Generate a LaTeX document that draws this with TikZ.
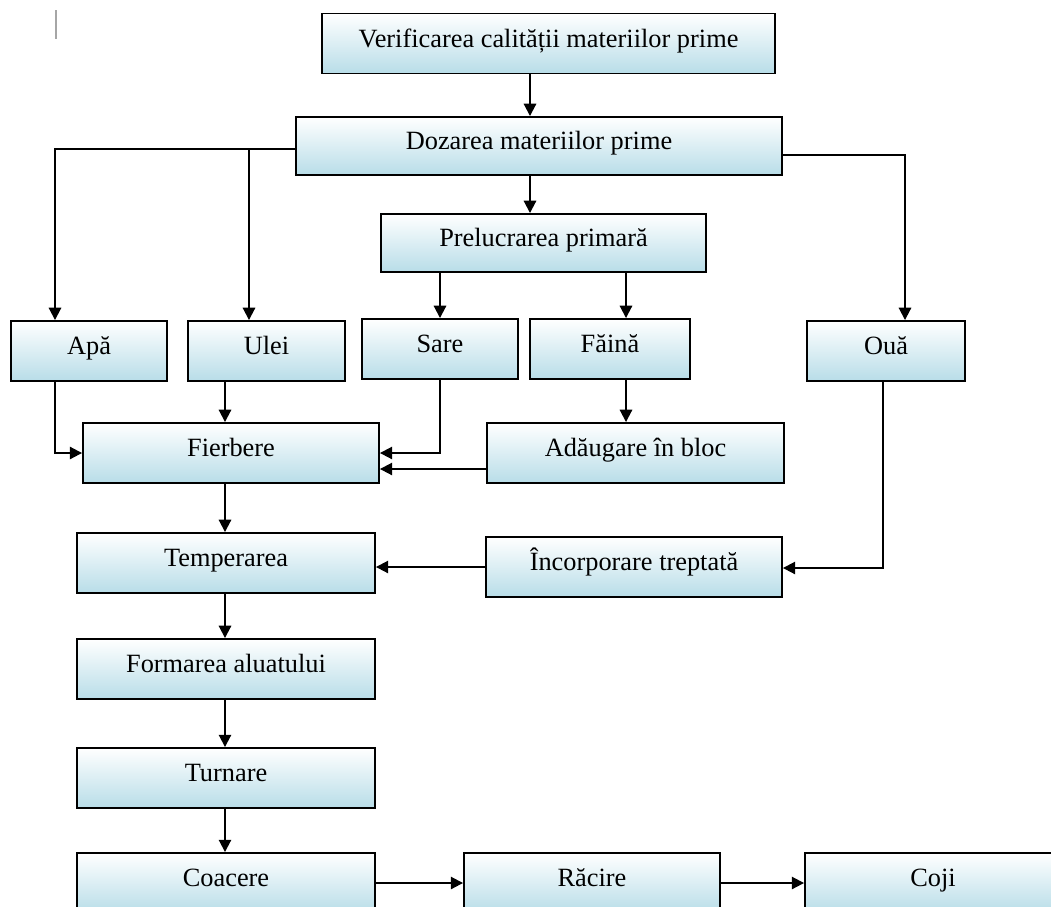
\documentclass[tikz,border=0pt]{standalone}
\usepackage{fontspec}
\setmainfont{Liberation Serif}
\usetikzlibrary{arrows.meta}
\definecolor{boxblue}{RGB}{184,221,232}
\begin{document}
\begin{tikzpicture}[x=0.02cm,y=-0.02cm,
  box/.style={rectangle,draw,line width=1.1pt,top color=white,bottom color=boxblue,
    minimum height=1.2cm,inner sep=0pt,text height=0.7em,text depth=0.3em,
    font=\fontsize{15}{18}\selectfont},
  arr/.style={line width=1.1pt,-{Triangle[length=7pt,width=7pt]}}]
\useasboundingbox (0,0) rectangle (1051,906);
\clip (0,0) rectangle (1051,906);
\draw[black!35,line width=0.6pt] (56,10) -- (56,39);
\node [box,minimum width=9.06cm] (ver) at (548.5,43.5) {Verificarea calității materiilor prime};
\node [box,minimum width=9.72cm,minimum height=1.16cm] (doz) at (539,146) {Dozarea materiilor prime};
\node [box,minimum width=6.5cm,minimum height=1.16cm] (prel) at (543.5,243) {Prelucrarea primară};
\node [box,minimum width=3.12cm] (apa) at (89,351) {Apă};
\node [box,minimum width=3.14cm] (ulei) at (266.5,351) {Ulei};
\node [box,minimum width=3.12cm] (sare) at (440,349) {Sare};
\node [box,minimum width=3.2cm] (faina) at (610,349) {Făină};
\node [box,minimum width=3.16cm] (oua) at (886,351) {Ouă};
\node [box,minimum width=5.92cm] (fier) at (231,453) {Fierbere};
\node [box,minimum width=5.94cm] (adaug) at (635.5,453) {Adăugare în bloc};
\node [box,minimum width=5.96cm] (temp) at (226,563) {Temperarea};
\node [box,minimum width=5.92cm] (incorp) at (634,567) {Încorporare treptată};
\node [box,minimum width=5.96cm] (form) at (226,669) {Formarea aluatului};
\node [box,minimum width=5.96cm] (turn) at (226,778) {Turnare};
\node [box,minimum width=5.96cm] (coac) at (226,883) {Coacere};
\node [box,minimum width=5.12cm] (rac) at (592,883) {Răcire};
\node [box,minimum width=5.12cm] (coji) at (933,883) {Coji};
\coordinate (xa) at (530,0);
\coordinate (xl) at (55,149);
\coordinate (xu) at (249,0);
\coordinate (xr) at (905,155);
\coordinate (xf) at (626,0);
\coordinate (xc) at (225,0);
\coordinate (xo) at (883,568);
\coordinate (ya) at (0,469);
\draw[arr] (ver.south -| xa) -- (doz.north -| xa);
\draw[arr] (doz.south -| xa) -- (prel.north -| xa);
\draw[arr] (doz.west |- xl) -- (xl) -- (apa.north -| xl);
\draw[arr] (xl -| xu) -- (ulei.north -| xu);
\draw[arr] (doz.east |- xr) -- (xr) -- (oua.north -| xr);
\draw[arr] (prel.south -| sare.north) -- (sare.north);
\draw[arr] (prel.south -| xf) -- (faina.north -| xf);
\draw[arr] (apa.south -| xl) -- (xl |- fier.west) -- (fier.west);
\draw[arr] (ulei.south -| xc) -- (fier.north -| xc);
\draw[arr] (sare.south) -- (sare.south |- fier.east) -- (fier.east);
\draw[arr] (faina.south -| xf) -- (adaug.north -| xf);
\draw[arr] (adaug.west |- ya) -- (fier.east |- ya);
\draw[arr] (oua.south -| xo) -- (xo) -- (incorp.east |- xo);
\draw[arr] (incorp.west) -- (incorp.west -| temp.east);
\draw[arr] (fier.south -| xc) -- (temp.north -| xc);
\draw[arr] (temp.south -| xc) -- (form.north -| xc);
\draw[arr] (form.south -| xc) -- (turn.north -| xc);
\draw[arr] (turn.south -| xc) -- (coac.north -| xc);
\draw[arr] (coac.east) -- (rac.west);
\draw[arr] (rac.east) -- (coji.west);
\end{tikzpicture}
\end{document}
